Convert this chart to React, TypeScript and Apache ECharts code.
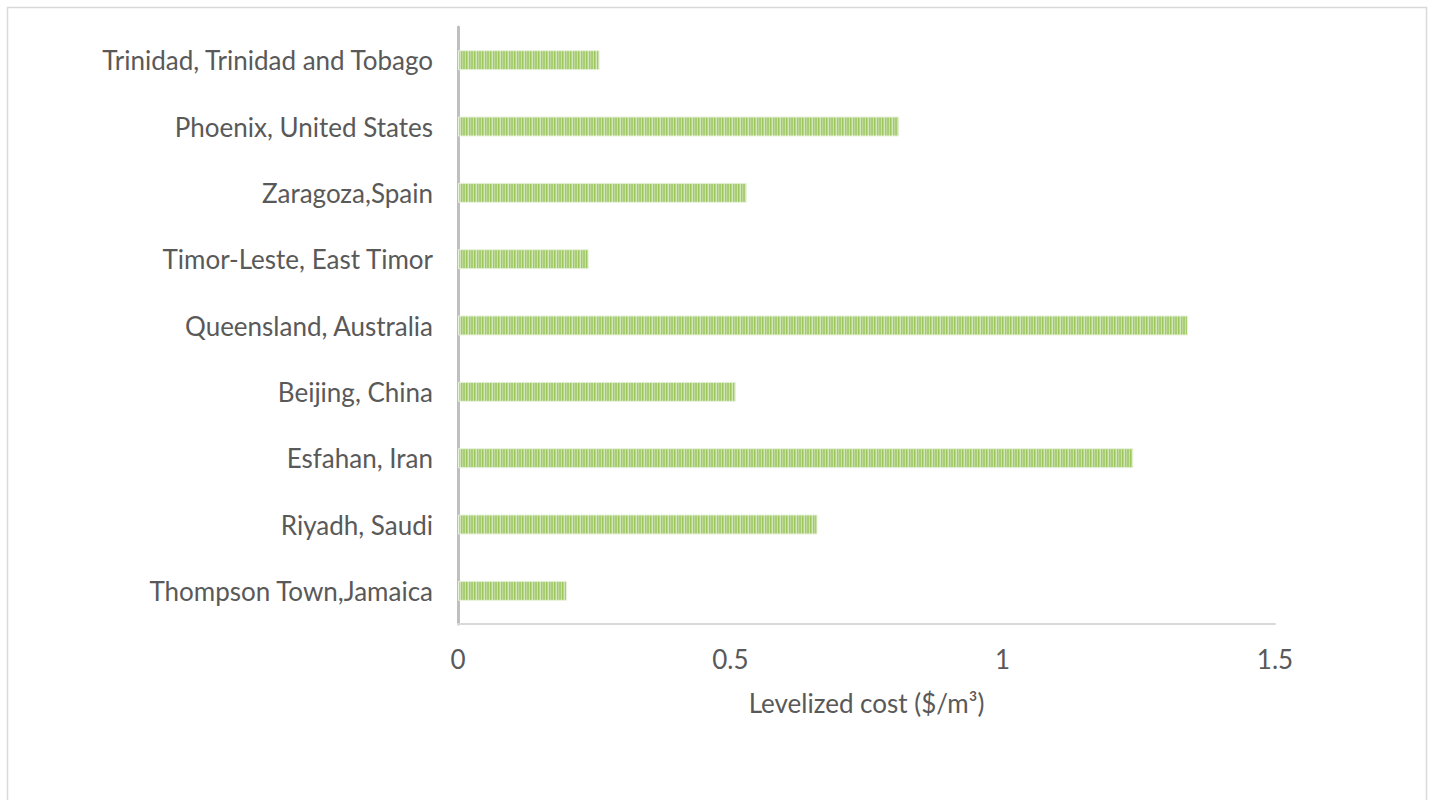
import React, { useEffect, useRef } from "react";
import * as echarts from "echarts";

const categories = [
  "Thompson Town,Jamaica",
  "Riyadh, Saudi",
  "Esfahan, Iran",
  "Beijing, China",
  "Queensland, Australia",
  "Timor-Leste, East Timor",
  "Zaragoza,Spain",
  "Phoenix, United States",
  "Trinidad, Trinidad and Tobago",
];
const levelizedCost = [0.2, 0.66, 1.24, 0.51, 1.34, 0.24, 0.53, 0.81, 0.26];
const xTicks = [0, 0.5, 1, 1.5];

function stripePattern(): HTMLCanvasElement {
  const c = document.createElement("canvas");
  c.width = 8;
  c.height = 4;
  const ctx = c.getContext("2d")!;
  const cols = ["#a8cd74", "#c9e0a6", "#9cc75e", "#b7d58e", "#d3e7b8", "#a2ca69", "#bdd996", "#aacf78"];
  cols.forEach((col, i) => {
    ctx.fillStyle = col;
    ctx.fillRect(i, 0, 1, 4);
  });
  return c;
}

export default function App() {
  const ref = useRef<HTMLDivElement>(null);
  useEffect(() => {
    if (!ref.current) return;
    const chart = echarts.init(ref.current, null, { renderer: "svg" });
    const font = "Lato, 'Open Sans', sans-serif";
    chart.setOption({
      animation: false,
      backgroundColor: "#ffffff",
      textStyle: { fontFamily: font },
      graphic: [
        {
          type: "rect",
          shape: { x: 7.5, y: 7.5, width: 1419, height: 820 },
          style: { fill: "none", stroke: "#d9d9d9", lineWidth: 1.5 },
          silent: true,
        },
      ],
      grid: { left: 458, right: 157, top: 27, bottom: 176 },
      xAxis: {
        type: "value",
        min: 0,
        max: 1.5,
        interval: 0.5,
        axisLine: { show: true, lineStyle: { color: "#d9d9d9", width: 2 } },
        axisTick: { show: false },
        splitLine: { show: false },
        axisLabel: {
          margin: 22,
          color: "#595959",
          fontSize: 26,
          fontFamily: font,
          formatter: (v: number) => (xTicks.includes(v) ? String(v) : ""),
        },
        name: "Levelized cost ($/m³)",
        nameLocation: "middle",
        nameGap: 66,
        nameTextStyle: { color: "#595959", fontSize: 26, fontFamily: font },
      },
      yAxis: {
        type: "category",
        data: categories,
        axisLine: { show: true, lineStyle: { color: "#bfbfbf", width: 3 } },
        axisTick: { show: false },
        axisLabel: {
          margin: 25,
          color: "#595959",
          fontSize: 26,
          fontFamily: font,
          padding: [0, 0, 3, 0],
        },
      },
      series: [
        {
          type: "bar",
          data: levelizedCost,
          barWidth: 20,
          itemStyle: {
            color: { image: stripePattern(), repeat: "repeat" },
            borderColor: "#e8f2dc",
            borderWidth: 1,
          },
        },
      ],
    });
    return () => chart.dispose();
  }, []);
  return (
    <div
      ref={ref}
      style={{ position: "absolute", left: 0, top: 0, width: 1432, height: 800 }}
    />
  );
}
